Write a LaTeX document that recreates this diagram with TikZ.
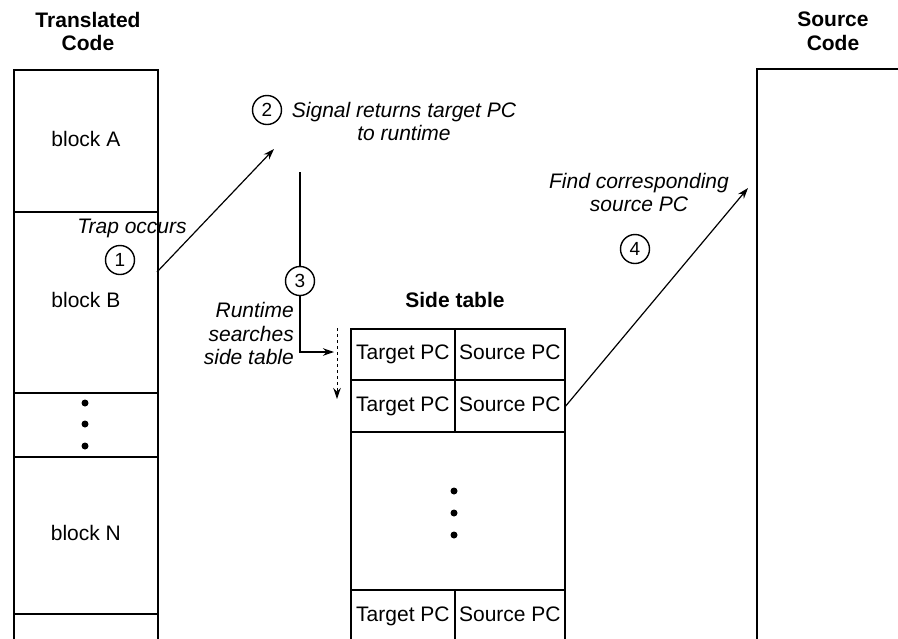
\documentclass[tikz,border=0pt]{standalone}
\usepackage{fontspec}
\setmainfont{Liberation Sans}
\usetikzlibrary{arrows.meta}
\begin{document}
\begin{tikzpicture}[x=1pt,y=-1pt,
  box/.style={draw, line width=1.8pt, inner sep=0pt, anchor=north west, text height=15pt, text depth=4.5pt, font=\fontsize{21}{24}\selectfont},
  ital/.style={font=\fontsize{21}{23.5}\selectfont\itshape, align=center, inner sep=0pt},
  ttl/.style={font=\fontsize{21}{23.5}\selectfont\bfseries, align=center, inner sep=0pt},
  num/.style={circle, draw, line width=1.4pt, minimum size=29pt, inner sep=0pt, fill=white, font=\fontsize{19}{19}\selectfont},
  arr/.style={-{Stealth[length=11pt,width=7.5pt]}, line width=1.2pt},
  dotm/.style={circle, fill, inner sep=0pt, minimum size=7pt},
  lines/.style={line width=1.8pt}
]
\useasboundingbox (0,0) rectangle (898,638);
% translated code column
\node[ttl] (ttlT) at (88,31.5) {Translated\\Code};
\node[box, minimum width=144pt, minimum height=142pt] (blockA) at (13,69) {block A};
\node[box, minimum width=144pt, minimum height=181pt] (blockB) at (13,211) {block B};
\node[box, minimum width=144pt, minimum height=64pt] (dotsL) at (13,392) {};
\node[dotm] (dl1) at (85,403) {};
\node[dotm] (dl2) at (85,424) {};
\node[dotm] (dl3) at (85,446) {};
\node[box, minimum width=144pt, minimum height=157pt] (blockN) at (13,456) {block N};
\node[box, minimum width=144pt, minimum height=40pt] (blockZ) at (13,613) {};
% source code column
\node[ttl] (ttlS) at (833,31.5) {Source\\Code};
\draw[lines] (757,640) -- (757,69) -- (900,69);
% side table
\node[ttl] (ttlST) at (455,300) {Side table};
\node[box, minimum width=104pt, minimum height=51pt] (t1) at (350,328) {Target PC};
\node[box, minimum width=110pt, minimum height=51pt] (s1) at (454,328) {Source PC};
\node[box, minimum width=104pt, minimum height=52pt] (t2) at (350,379) {Target PC};
\node[box, minimum width=110pt, minimum height=52pt] (s2) at (454,379) {Source PC};
\node[box, minimum width=214pt, minimum height=158pt] (big) at (350,431) {};
\node[dotm] (dt1) at (454,491) {};
\node[dotm] (dt2) at (454,513) {};
\node[dotm] (dt3) at (454,535) {};
\node[box, minimum width=104pt, minimum height=52pt] (t3) at (350,589) {Target PC};
\node[box, minimum width=110pt, minimum height=52pt] (s3) at (454,589) {Source PC};
% step 1
\node[ital] (trapL) at (132,228) {Trap occurs};
\coordinate (trap) at (157,272);
\coordinate (sig) at (274,149);
\draw[arr] (trap) -- (sig);
\node[num] (c1) at (120,260) {1};
% step 2
\node[num] (c2) at (267,110) {2};
\node[ital] (sigL) at (404,121.5) {Signal returns target PC\\to runtime};
% step 3
\coordinate (sigbot) at (300,172);
\coordinate (bend) at (300,352);
\coordinate (srch) at (334,352);
\draw[arr] (sigbot) -- (bend) -- (srch);
\node[num] (c3) at (300,281) {3};
\node[ital, align=right, anchor=east] (srchL) at (294,333.5) {Runtime\\searches\\side table};
\coordinate (dtop) at (337,328);
\coordinate (dbot) at (337,399);
\draw[arr, dashed, line width=1pt] (dtop) -- (dbot);
% step 4
\coordinate (find) at (748,188);
\draw[arr] (s2.east) -- (find);
\node[ital] (findL) at (639,192.5) {Find corresponding\\source PC};
\node[num] (c4) at (635,249) {4};
\end{tikzpicture}
\end{document}
